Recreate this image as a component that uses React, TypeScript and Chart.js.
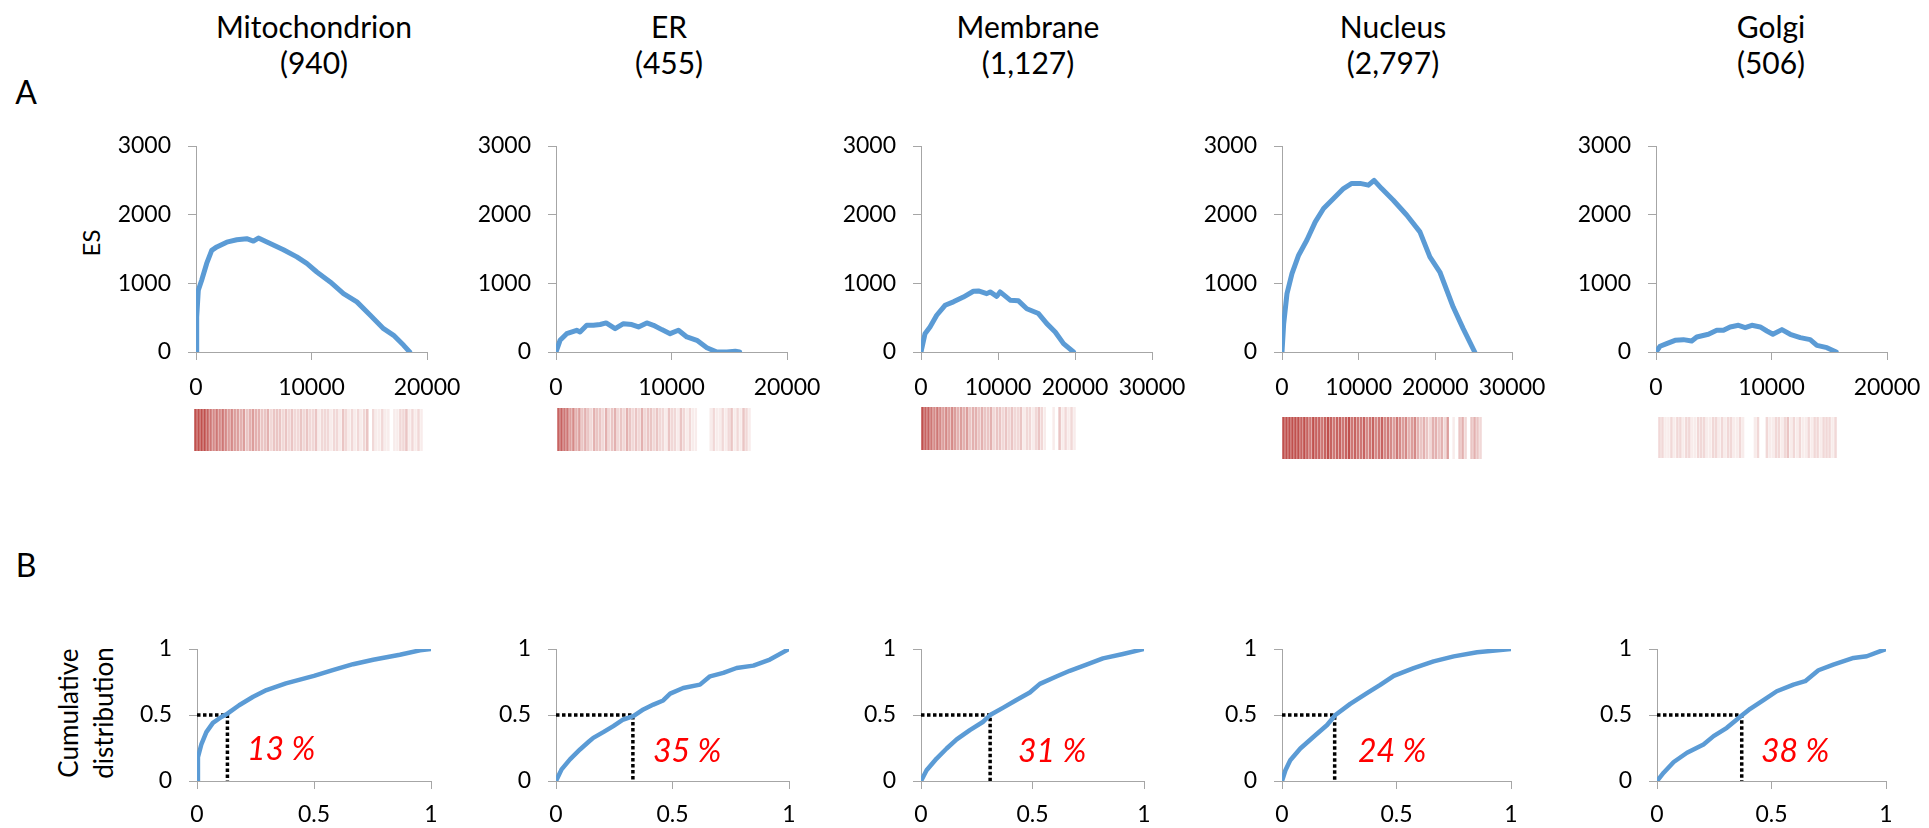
import React, { useEffect, useRef } from 'react';
import { Chart, registerables } from 'chart.js';

Chart.register(...registerables);

const FONT = 'Lato, "Open Sans", sans-serif';
const BLUE = '#5b9bd5';
const AXIS = '#a6a6a6';

// ---------- data ----------
const compartments = ['Mitochondrion', 'ER', 'Membrane', 'Nucleus', 'Golgi'];
const geneCounts = ['(940)', '(455)', '(1,127)', '(2,797)', '(506)'];
const medianLabels = ['13 %', '35 %', '31 %', '24 %', '38 %'];
const medianX = [0.13, 0.33, 0.31, 0.23, 0.37];

const esXMax = [20000, 20000, 30000, 30000, 20000];
const esXStep = 10000;
const esYMax = 3000;
const esYStep = 1000;
const cdfMax = 1;
const cdfStep = 0.5;

const mitoES = [[0,0],[60,510],[200,900],[490,1045],[925,1290],[1360,1480],[1800,1530],[2660,1600],[3530,1635],[4390,1650],[4970,1615],[5400,1660],[6420,1580],[7570,1490],[8730,1385],[9590,1290],[10460,1165],[11620,1020],[12770,850],[13930,730],[15090,535],[16240,340],[17110,243],[17980,97],[18500,0]];
const erES = [[0,0],[350,170],[925,267],[1790,316],[2080,292],[2660,389],[3240,389],[3820,400],[4340,423],[5120,340],[5840,413],[6560,400],[7140,365],[7860,423],[8440,389],[9160,326],[9880,267],[10600,316],[11330,219],[12200,170],[13060,63],[13930,0],[14800,0],[15520,10],[15900,0]];
const membES = [[0,0],[520,267],[1170,365],[2040,535],[3120,680],[4210,730],[5500,800],[6800,885],[7460,890],[8540,850],[8980,875],[9840,810],[10270,875],[11580,755],[12660,745],[13740,630],[15260,560],[16340,413],[17430,292],[18510,122],[19810,0]];
const nucES = [[0,0],[220,413],[650,850],[1300,1140],[2170,1410],[3250,1630],[4340,1895],[5420,2090],[6720,2235],[8020,2380],[9100,2455],[10190,2455],[11270,2430],[12010,2500],[13000,2380],[14520,2210],[16260,1995],[17990,1750],[19290,1385],[20590,1165],[22330,655],[23630,340],[25140,0]];
const golgiES = [[0,0],[350,83],[925,122],[1650,170],[2370,180],[3090,160],[3530,219],[4540,258],[5260,316],[5840,316],[6420,365],[7140,389],[7720,355],[8300,389],[9020,365],[9600,306],[10120,258],[10900,326],[11620,258],[12490,209],[13350,180],[13930,97],[14800,63],[15600,0]];

const mitoCDF = [[0,0],[0.004,0.18],[0.019,0.28],[0.04,0.37],[0.068,0.44],[0.104,0.485],[0.13,0.51],[0.18,0.574],[0.24,0.638],[0.297,0.689],[0.38,0.74],[0.5,0.796],[0.58,0.84],[0.667,0.885],[0.753,0.918],[0.867,0.957],[0.953,0.99],[1,1]];
const erCDF = [[0,0],[0.024,0.088],[0.06,0.164],[0.103,0.239],[0.139,0.295],[0.16,0.327],[0.203,0.37],[0.246,0.416],[0.289,0.466],[0.332,0.491],[0.375,0.542],[0.418,0.579],[0.46,0.61],[0.49,0.662],[0.546,0.705],[0.618,0.73],[0.661,0.793],[0.718,0.819],[0.775,0.856],[0.847,0.874],[0.918,0.92],[1,1]];
const membCDF = [[0,0],[0.025,0.081],[0.07,0.17],[0.115,0.246],[0.16,0.315],[0.219,0.386],[0.279,0.449],[0.31,0.5],[0.369,0.556],[0.428,0.614],[0.488,0.67],[0.533,0.736],[0.607,0.792],[0.667,0.835],[0.742,0.881],[0.816,0.929],[0.906,0.962],[1,1]];
const nucCDF = [[0,0],[0.015,0.081],[0.036,0.157],[0.08,0.246],[0.138,0.335],[0.197,0.424],[0.233,0.5],[0.298,0.584],[0.371,0.665],[0.429,0.728],[0.488,0.797],[0.575,0.855],[0.662,0.906],[0.75,0.944],[0.852,0.975],[1,1]];
const golgiCDF = [[0,0],[0.029,0.063],[0.073,0.144],[0.131,0.214],[0.203,0.277],[0.247,0.34],[0.305,0.403],[0.37,0.496],[0.407,0.547],[0.465,0.612],[0.523,0.68],[0.596,0.73],[0.647,0.756],[0.705,0.839],[0.77,0.882],[0.858,0.932],[0.916,0.945],[1,1]];

// barcode intensities (0 = none, 9 = full colour), left to right along the ranked list
const mitoBarcode = [9,9,9,9,8,7,6,7,6,7,6,5,6,5,5,4,5,3,4,5,4,4,3,3,4,2,3,3,3,2,3,2,3,2,2,3,2,3,2,2,3,1,2,2,2,1,2,2,1,3,2,1,2,1,2,1,2,3,0,2,1,1,2,1,1,0,1,1,2,2,3,1,2,1,2,1];
const erBarcode = [8,8,7,7,5,6,4,5,3,4,3,2,4,3,3,2,4,2,3,4,2,3,2,4,3,2,3,2,4,2,3,3,2,3,2,2,1,3,2,2,1,3,2,1,2,1,1,0,0,0,0,1,2,1,1,2,1,2,3,1,2,1,3,2,1];
const membBarcode = [9,8,8,7,6,7,6,5,6,5,6,5,4,5,4,5,3,4,4,3,4,3,3,4,2,3,3,2,3,2,3,2,2,3,1,2,2,1,2,3,2,1,0,0,1,0,3,1,2,1,2,1];
const nucBarcode = [9,9,9,9,9,9,8,9,8,7,9,8,8,7,8,9,8,7,8,8,7,8,9,7,8,7,7,8,6,7,8,6,7,8,6,7,6,5,7,6,5,6,4,5,6,4,3,4,3,2,4,4,3,4,2,5,0,1,0,3,4,2,0,3,4,3,2];
const golgiBarcode = [2,2,1,1,2,1,2,2,1,2,2,1,1,2,2,2,1,1,2,2,1,2,1,2,2,1,1,2,1,0,0,0,1,2,0,0,2,1,1,2,2,1,2,3,1,2,1,2,1,1,2,1,2,2,1,2,2,2,1,2];

const esSeries = [mitoES, erES, membES, nucES, golgiES];
const cdfSeries = [mitoCDF, erCDF, membCDF, nucCDF, golgiCDF];
const barcodes = [mitoBarcode, erBarcode, membBarcode, nucBarcode, golgiBarcode];

// ---------- layout ----------
type Box = { left: number; top: number; w: number; h: number };
const LEFT = 80, TOP = 20, RIGHT = 48, BOTTOM = 52;

const esPlots: Box[] = [
  { left: 196, top: 146, w: 231, h: 206 },
  { left: 556, top: 146, w: 231, h: 206 },
  { left: 921, top: 146, w: 231, h: 206 },
  { left: 1282, top: 146, w: 230, h: 206 },
  { left: 1656, top: 146, w: 231, h: 206 },
];
const cdfPlots: Box[] = [
  { left: 197, top: 649, w: 234, h: 132 },
  { left: 556, top: 649, w: 233, h: 132 },
  { left: 921, top: 649, w: 223, h: 132 },
  { left: 1282, top: 649, w: 229, h: 132 },
  { left: 1657, top: 649, w: 229, h: 132 },
];
const barcodeBoxes: Box[] = [
  { left: 194, top: 409, w: 229, h: 42 },
  { left: 557, top: 408, w: 194, h: 43 },
  { left: 921, top: 407, w: 155, h: 43 },
  { left: 1282, top: 417, w: 200, h: 42 },
  { left: 1658, top: 417, w: 179, h: 41 },
];
const titleX = [314, 669, 1028, 1393, 1771];
const pctPos = [[247, 748], [653, 750], [1018, 750], [1358, 750], [1761, 750]];

function axes(xMax: number, xStep: number, yMax: number, yStep: number, xPad: number) {
  const tickFont = { family: FONT, size: 23 };
  const grid = { drawOnChartArea: false, drawTicks: true, tickLength: 8, color: AXIS, lineWidth: 1 };
  const border = { display: true, color: AXIS, width: 1 };
  return {
    x: {
      type: 'linear', min: 0, max: xMax,
      ticks: { stepSize: xStep, color: '#000', font: tickFont, padding: xPad, maxRotation: 0, autoSkip: false, callback: (v: number) => String(v) },
      grid, border,
      afterFit: (s: any) => { s.height = BOTTOM; s.paddingLeft = 0; s.paddingRight = 0; s.paddingTop = 0; s.paddingBottom = 0; },
    },
    y: {
      type: 'linear', min: 0, max: yMax,
      ticks: { stepSize: yStep, color: '#000', font: tickFont, padding: 17, callback: (v: number) => String(v) },
      grid, border,
      afterFit: (s: any) => { s.width = LEFT; s.paddingTop = 0; s.paddingBottom = 0; s.paddingLeft = 0; s.paddingRight = 0; },
    },
  };
}

function baseOptions(scales: any) {
  return {
    responsive: false,
    animation: false,
    events: [],
    layout: { padding: { left: 0, top: TOP, right: RIGHT, bottom: 0 } },
    plugins: { legend: { display: false }, tooltip: { enabled: false } },
    scales,
  };
}

const toXY = (pts: number[][]) => pts.map(([x, y]) => ({ x, y }));

function esConfig(i: number) {
  return {
    type: 'line',
    data: {
      datasets: [{
        data: toXY(esSeries[i]), borderColor: BLUE, borderWidth: 5, pointRadius: 0,
        tension: 0, fill: false, borderJoinStyle: 'round', borderCapStyle: 'round',
      }],
    },
    options: baseOptions(axes(esXMax[i], esXStep, esYMax, esYStep, 14)),
  };
}

function cdfConfig(i: number) {
  const m = medianX[i];
  return {
    type: 'line',
    data: {
      datasets: [
        {
          data: toXY(cdfSeries[i]), borderColor: BLUE, borderWidth: 4.5, pointRadius: 0,
          tension: 0, fill: false, borderJoinStyle: 'round', borderCapStyle: 'round',
        },
        {
          data: [{ x: 0, y: 0.5 }, { x: m, y: 0.5 }, { x: m, y: 0 }],
          borderColor: '#000', borderWidth: 3.5, borderDash: [3.5, 2.5], pointRadius: 0,
          tension: 0, fill: false, borderCapStyle: 'butt',
        },
      ],
    },
    options: baseOptions(axes(cdfMax, cdfStep, cdfMax, cdfStep, 12)),
  };
}

function barcodeConfig(i: number) {
  const vals = barcodes[i];
  return {
    type: 'bar',
    data: {
      labels: vals.map((_, k) => String(k)),
      datasets: [{
        data: vals.map((v) => (v > 0 ? 1 : 0)),
        backgroundColor: vals.map((v) => `rgba(192,80,77,${(v / 9).toFixed(3)})`),
        borderWidth: 0, barPercentage: 0.85, categoryPercentage: 1,
      }],
    },
    options: {
      responsive: false, animation: false, events: [],
      layout: { padding: 0 },
      plugins: { legend: { display: false }, tooltip: { enabled: false } },
      scales: { x: { display: false }, y: { display: false, min: 0, max: 1 } },
    },
  };
}

function ChartCanvas({ left, top, width, height, make }: { left: number; top: number; width: number; height: number; make: () => any }) {
  const ref = useRef<HTMLCanvasElement>(null);
  useEffect(() => {
    const chart = new Chart(ref.current as HTMLCanvasElement, make());
    return () => chart.destroy();
  }, []);
  return <canvas ref={ref} width={width} height={height} style={{ position: 'absolute', left, top, width, height }} />;
}

function PlotCanvas({ box, make }: { box: Box; make: () => any }) {
  return (
    <ChartCanvas
      left={box.left - LEFT}
      top={box.top - TOP}
      width={LEFT + box.w + RIGHT}
      height={TOP + box.h + BOTTOM}
      make={make}
    />
  );
}

export default function App() {
  const text: React.CSSProperties = { position: 'absolute', whiteSpace: 'nowrap', fontFamily: FONT, color: '#000' };
  return (
    <div style={{ position: 'absolute', left: 0, top: 0, width: 1929, height: 828, background: '#fff', overflow: 'hidden' }}>
      {compartments.map((c, i) => (
        <div key={c} style={{ ...text, left: titleX[i], top: 8, transform: 'translateX(-50%)', fontSize: 30, lineHeight: '36px', textAlign: 'center' }}>
          {c}<br />{geneCounts[i]}
        </div>
      ))}
      <div style={{ ...text, left: 26, top: 92, transform: 'translate(-50%,-50%)', fontSize: 32, lineHeight: 1 }}>A</div>
      <div style={{ ...text, left: 26, top: 565, transform: 'translate(-50%,-50%)', fontSize: 32, lineHeight: 1 }}>B</div>
      <div style={{ ...text, left: 91, top: 243, transform: 'translate(-50%,-50%) rotate(-90deg)', fontSize: 24, lineHeight: 1 }}>ES</div>
      <div style={{ ...text, left: 86, top: 713, transform: 'translate(-50%,-50%) rotate(-90deg)', fontSize: 26, lineHeight: '35px', textAlign: 'center' }}>
        Cumulative<br />distribution
      </div>

      {esPlots.map((b, i) => <PlotCanvas key={'es' + i} box={b} make={() => esConfig(i)} />)}
      {barcodeBoxes.map((b, i) => (
        <ChartCanvas key={'bc' + i} left={b.left} top={b.top} width={b.w} height={b.h} make={() => barcodeConfig(i)} />
      ))}
      {cdfPlots.map((b, i) => <PlotCanvas key={'cdf' + i} box={b} make={() => cdfConfig(i)} />)}

      {medianLabels.map((t, i) => (
        <div key={t} style={{ ...text, left: pctPos[i][0], top: pctPos[i][1], transform: 'translateY(-50%)', fontSize: 32, fontStyle: 'italic', color: '#ff0000', lineHeight: 1 }}>
          {t}
        </div>
      ))}
    </div>
  );
}
